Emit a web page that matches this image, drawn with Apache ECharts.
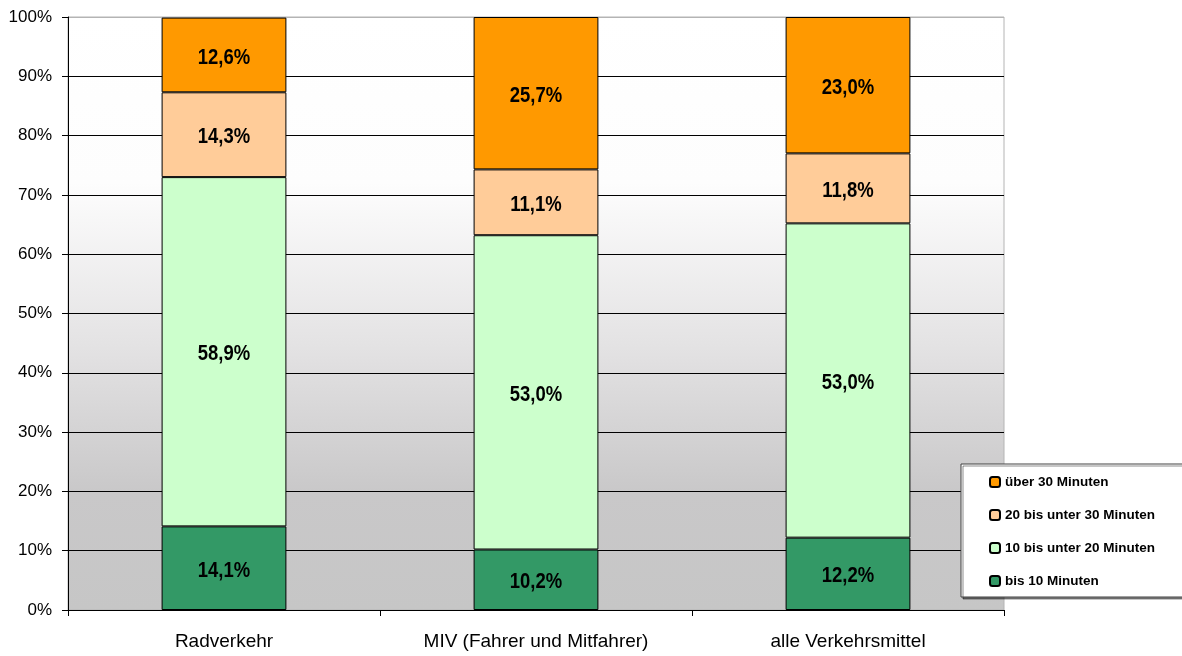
<!DOCTYPE html>
<html>
<head>
<meta charset="utf-8">
<script src="https://cdn.jsdelivr.net/npm/echarts@6/dist/echarts.min.js"></script>
<style>
  html, body { margin: 0; padding: 0; background: #fff; }
  #chart { width: 1182px; height: 656px; }
</style>
</head>
<body>
<div id="chart"></div>
<script>
// Wegedauer nach Verkehrsmittel (Anteile in %)
const categories = ['Radverkehr', 'MIV (Fahrer und Mitfahrer)', 'alle Verkehrsmittel'];
const seriesNames = ['bis 10 Minuten', '10 bis unter 20 Minuten', '20 bis unter 30 Minuten', 'über 30 Minuten'];
const bis10 = [14.1, 10.2, 12.2];
const von10bis20 = [58.9, 53.0, 53.0];
const von20bis30 = [14.3, 11.1, 11.8];
const ueber30 = [12.6, 25.7, 23.0];
const yTicks = [0, 10, 20, 30, 40, 50, 60, 70, 80, 90, 100];

const seriesValues = [bis10, von10bis20, von20bis30, ueber30];
const seriesColors = ['#339966', '#ccffcc', '#ffcc99', '#ff9900'];

const fmt = v => v.toFixed(1).replace('.', ',') + '%';

const chart = echarts.init(document.getElementById('chart'), null, { renderer: 'canvas' });

const series = seriesNames.map((name, i) => ({
  name: name,
  type: 'bar',
  stack: 'total',
  barWidth: '40%',
  data: seriesValues[i],
  itemStyle: { color: seriesColors[i], borderColor: '#000', borderWidth: 1 },
  emphasis: { disabled: true },
  animation: false
}));

// segment labels: [category index, segment base, segment value]
const labelItems = [];
categories.forEach((c, ci) => {
  let base = 0;
  seriesValues.forEach(vals => {
    labelItems.push([ci, base, vals[ci]]);
    base += vals[ci];
  });
});

// condensed bold value labels, centred in each stacked segment
series.push({
  type: 'custom',
  name: 'labels',
  z: 5,
  silent: true,
  animation: false,
  data: labelItems,
  renderItem: (params, api) => {
    const v = api.value(2);
    const pt = api.coord([api.value(0), api.value(1) + v / 2]);
    return {
      type: 'text',
      x: pt[0],
      y: pt[1] + 2.5,
      scaleX: 0.84,
      style: {
        text: fmt(v),
        fill: '#000',
        font: 'bold 22px "Liberation Sans", Arial, sans-serif',
        align: 'center',
        verticalAlign: 'middle'
      }
    };
  }
});

// last split line (100 %) is the grey plot border
const splitColors = yTicks.map((t, i) => (i === yTicks.length - 1 ? '#b4b4b4' : '#000'));

chart.setOption({
  animation: false,
  backgroundColor: '#fff',
  grid: {
    left: 68, right: 178, top: 17, bottom: 46,
    show: true,
    borderColor: '#b4b4b4',
    borderWidth: 1,
    backgroundColor: {
      type: 'linear', x: 0, y: 0, x2: 0, y2: 1,
      colorStops: [
        { offset: 0, color: '#ffffff' },
        { offset: 0.28, color: '#fdfdfd' },
        { offset: 0.55, color: '#e4e3e4' },
        { offset: 0.8, color: '#c9c8c9' },
        { offset: 1, color: '#c6c6c6' }
      ]
    }
  },
  xAxis: {
    type: 'category',
    data: categories,
    boundaryGap: true,
    axisLine: { lineStyle: { color: '#000', width: 1 } },
    axisTick: { show: true, length: 6, lineStyle: { color: '#000' } },
    axisLabel: {
      color: '#000',
      fontFamily: '"Liberation Sans", Arial, sans-serif',
      fontSize: 19,
      margin: 22
    }
  },
  yAxis: {
    type: 'value',
    min: 0,
    max: 100,
    interval: 10,
    axisLine: { show: true, lineStyle: { color: '#000', width: 1 } },
    axisTick: { show: true, length: 6, lineStyle: { color: '#000' } },
    axisLabel: {
      color: '#000',
      fontFamily: '"Liberation Sans", Arial, sans-serif',
      fontSize: 17,
      margin: 16,
      formatter: v => v + '%'
    },
    splitLine: { show: true, lineStyle: { color: splitColors, width: 1 } }
  },
  legend: {
    orient: 'vertical',
    left: 989,
    top: 475,
    padding: 0,
    itemWidth: 10,
    itemHeight: 10,
    itemGap: 19,
    data: ['über 30 Minuten', '20 bis unter 30 Minuten', '10 bis unter 20 Minuten', 'bis 10 Minuten'],
    textStyle: {
      color: '#000',
      fontFamily: '"Liberation Sans", Arial, sans-serif',
      fontWeight: 'bold',
      fontSize: 13.5,
      lineHeight: 14
    },
    selectedMode: false,
    z: 10
  },
  graphic: [{
    type: 'rect',
    z: 8,
    shape: { x: 961, y: 464, width: 230, height: 133 },
    style: {
      fill: '#fff',
      stroke: '#404040',
      lineWidth: 1,
      shadowColor: 'rgba(0,0,0,0.45)',
      shadowOffsetX: 2,
      shadowOffsetY: 2,
      shadowBlur: 0
    }
  }],
  series: series
});
</script>
</body>
</html>
